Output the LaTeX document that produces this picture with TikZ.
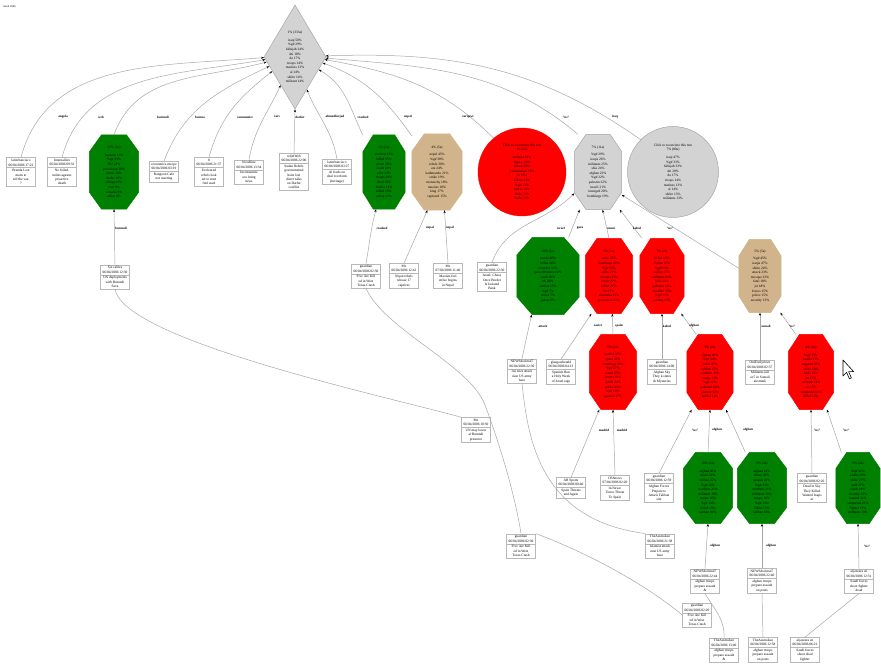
\documentclass[tikz,border=0pt]{standalone}
\usepackage{fontspec}
\setmainfont{Liberation Serif}
\usetikzlibrary{shapes.geometric,shapes.multipart,arrows.meta}
\pgfdeclarelayer{bottom}
\pgfdeclarelayer{background}
\pgfsetlayers{bottom,background,main}
\definecolor{gvgreen}{HTML}{008000}
\definecolor{gvtan}{HTML}{D2B48C}
\definecolor{gvgray}{HTML}{D3D3D3}
\definecolor{gvred}{HTML}{FF0000}
\definecolor{edgecol}{HTML}{A8A8A8}
\definecolor{boxline}{HTML}{B8B8B8}
\tikzset{
 rec/.style={rectangle split, rectangle split parts=2, draw=boxline, fill=white, line width=0.5pt,
   inner xsep=2pt, inner ysep=1.4pt, font=\fontsize{3.5}{4.3}\selectfont, align=center},
 octn/.style={rectangle, inner sep=0pt, font=\fontsize{3.5}{4.6}\selectfont, align=center},
 elab/.style={font=\fontsize{3.3}{4}\selectfont\bfseries, inner sep=0.5pt},
 conn/.style={draw=edgecol, line width=0.5pt, -{Stealth[length=3pt,width=2.2pt,color=black]}},
 lnk/.style={draw=edgecol, line width=0.5pt},
 fgreen/.style={fill=gvgreen, draw=gvgreen},
 fred/.style={fill=gvred, draw=gvred},
 ftan/.style={fill=gvtan, draw=gvtan},
 fgray/.style={fill=gvgray, draw=gray!70},
}
\newcommand\octo[7]{%
 \node[octn, minimum width=#4, minimum height=#5] (#1) at (#2,664-#3) {#7};
 \begin{pgfonlayer}{background}
 \path[#6, line width=0.5pt] ([xshift=0.25*#4]#1.north west) -- ([xshift=-0.25*#4]#1.north east)
   -- ([yshift=-0.23*#5]#1.north east) -- ([yshift=0.23*#5]#1.south east)
   -- ([xshift=-0.25*#4]#1.south east) -- ([xshift=0.25*#4]#1.south west)
   -- ([yshift=0.23*#5]#1.south west) -- ([yshift=-0.23*#5]#1.north west) -- cycle;
 \end{pgfonlayer}}
\begin{document}
\begin{tikzpicture}[x=1pt,y=1pt]
\begin{pgfonlayer}{bottom}
\fill[white] (0,0) rectangle (881,664);
\end{pgfonlayer}
\useasboundingbox (0,0) rectangle (881,664);
\node[anchor=west, font=\fontsize{2.8}{3}\selectfont, inner sep=0] (ttl) at (3,664-7) {result 2006};

% root
\node[diamond, aspect=0.6, fill=gvgray, draw=gray!70, line width=0.5pt, inner sep=0pt,
  minimum width=62, minimum height=104, font=\fontsize{3.5}{4.6}\selectfont, align=center] (dia) at (295,664-57)
 {1\% (333a)\\[3pt] iraqi 50\%\\\%g\# 29\%\\fallujah 24\%\\shi 18\%\\da 17\%\\troops 14\%\\marines 13\%\\al 14\%\\shiite 14\%\\militant 14\%};

% top row
\node[rec] (b1) at (21,664-172) {latinfrancisco\\06/04/2006 17:22\nodepart{two}Brenda Lost\\mans to\\tell the war\\?};
\node[rec] (b2) at (62,664-172) {Internallive\\06/04/2006 09:32\nodepart{two}No foiled,\\unites against\\proactive\\death};
\octo{o1}{114}{172}{49}{74}{fgreen}{33\% (3a)\\[3pt] burundi 41\%\\\%g\# 33\%\\DU 23\%\\peacekeep 20\%\\rebels 18\%\\darfur 18\%\\ethiopia 9\%\\civil 9\%\\somalia 9\%\\africa 8\%}
\node[rec] (b4) at (164,664-172) {economics.europe\\06/04/2006 03:19\nodepart{two}Rangoon Cafe\\not meeting};
\node[rec] (b5) at (209,664-172) {8\\06/04/2006 21:37\nodepart{two}Ecoloured\\rebels look\\set to start\\fuel used};
\node[rec] (b6) at (249,664-172) {bloodline\\06/04/2006 13:34\nodepart{two}Inconsumite\\a to bring\\news};
\node[rec] (b7) at (294,664-172) {reliefWeb\\06/04/2006 22:00\nodepart{two}Sudan Rebels\\governmental\\hoist lost\\direct talks\\on Darfur\\conflict};
\node[rec] (b8) at (337,664-172) {latinfrancisco\\06/04/2006 03:27\nodepart{two}Al feeds on\\deal to reform\\(heritage)};
\octo{o2}{384}{172}{42}{74}{fgreen}{3\% (2a)\\[3pt] crashed 43\%\\killed 35\%\\plane 28\%\\crash 24\%\\pilot 23\%\\troops 20\%\\fired 18\%\\border 14\%\\killed 13\%\\safety 13\%}
\octo{o3}{437}{172}{50}{76}{ftan}{4\% (5a)\\[3pt] nepal 43\%\\\%g\# 30\%\\rebels 30\%\\are 24\%\\kathmandu 21\%\\strike 19\%\\monarchy 18\%\\maoists 18\%\\king 17\%\\captured 15\%}
\node[circle, fill=gvred, draw=gvred, minimum size=88, inner sep=0pt, font=\fontsize{3.5}{4.6}\selectfont, align=center] (c1) at (522,664-172)
 {Click to zoom into this tree\\1\% (2a)\\[3pt] zarqawi 33\%\\legacy 22\%\\labour 20\%\\transmission 18\%\\jet 15\%\\failure 13\%\\\%g\# 13\%\\power 12\%\\deals 11\%\\faults 10\%};
\octo{g1}{598}{172}{47}{75}{fgray}{7\% (11a)\\[3pt] \%g\# 29\%\\iraqis 26\%\\militants 25\%\\shia 24\%\\afghan 23\%\\\%g\# 22\%\\palestin 22\%\\israeli 21\%\\insurged 20\%\\bombings 19\%}
\node[circle, fill=gvgray, draw=gray!70, line width=0.5pt, minimum size=91, inner sep=0pt, font=\fontsize{3.5}{4.6}\selectfont, align=center] (c2) at (673,664-172)
 {Click to zoom into this tree\\7\% (80a)\\[3pt] iraqi 47\%\\\%g\# 33\%\\fallujah 33\%\\shi 20\%\\da 17\%\\troops 14\%\\marines 13\%\\al 14\%\\shiite 13\%\\militants 13\%};

% second row
\node[rec] (b9) at (115,664-277) {Six cables\\06/04/2006 12:30\nodepart{two}UN deployments\\with Burundi\\Sava};
\node[rec] (b10) at (366,664-276) {guardian\\06/04/2006 02:30\nodepart{two}Five Are Kill\\ed in West\\Texas Crash};
\node[rec] (b11) at (404,664-276) {Mx\\06/04/2006 12:41\nodepart{two}Nepal rebels\\release 17\\captives};
\node[rec] (b12) at (448,664-276) {Mx\\07/04/2006 11:40\nodepart{two}Maoists feel\\strike begins\\in Nepal};
\node[rec] (b13) at (492,664-277) {guardian\\06/04/2006 22:30\nodepart{two}Israel: Chaos\\Once Border\\Is Isolated\\Bank};
\octo{o4}{548}{276}{62}{77}{fgreen}{18\% (2a)\\[3pt] israeli 48\%\\bullet 34\%\\crossfire 22\%\\gaza offensive 22\%\\settle 20\%\\bb 20\%\\settlers 13\%\\\%g\# 7\%\\attack 7\%\\palest 6\%}
\octo{o5}{609}{276}{47}{75}{fred}{5\% (3a)\\[3pt] sunni 45\%\\bombings 40\%\\\%g\# 35\%\\shiite 27\%\\mosque 25\%\\iraqis 22\%\\killed 21\%\\bb 17\%\\mourners 15\%\\procession 13\%}
\octo{o6}{662}{276}{44}{75}{fred}{7\% (2a)\\[3pt] kabul 45\%\\afghan 35\%\\\%g\# 28\%\\taliban 27\%\\militants 23\%\\kills 22\%\\pakistan 18\%\\zawahiri 15\%\\\%g\# 15\%\\raiding 13\%}
\octo{o7}{760}{276}{42}{73}{ftan}{5\% (5a)\\[3pt] \%g\# 45\%\\iraqis 47\%\\shiite 24\%\\attack 23\%\\mosque 23\%\\fatal 18\%\\jet 18\%\\forces 15\%\\police 15\%\\security 13\%}

% third row
\node[rec] (b14) at (522,664-371) {NEWSdecimal7\\06/04/2006 22:30\nodepart{two}Iwi tries attack\\near US army\\base};
\node[rec] (b15) at (561,664-372) {glasgowherald\\06/04/2006 04:13\nodepart{two}Spanish Ban\\a Holy Week\\of Israel rage};
\octo{o8}{613}{372}{47}{75}{fred}{5\% (2a)\\[3pt] madrid 33\%\\spain 33\%\\bombings 28\%\\\%g\# 27\%\\trains 27\%\\arrests 25\%\\qaeda 24\%\\police 23\%\\trial 18\%\\spanish 17\%}
\node[rec] (b16) at (662,664-372) {guardian\\06/04/2006 14:09\nodepart{two}Afghan Sky\\They k.states\\\& Mysteries};
\octo{o9}{710}{372}{46}{75}{fred}{3\% (2a)\\[3pt] afghan 46\%\\\%g\# 34\%\\kabul 27\%\\taliban 15\%\\southern 13\%\\troops 13\%\\\%g\# 12\%\\pakistan 12\%\\prepare 12\%\\border 11\%}
\node[rec] (b17) at (760,664-372) {OnlEnd/jobwn\\06/04/2006 02:37\nodepart{two}Militants kill\\at 5 in Somali\\airstrunk};
\octo{o10}{811}{372}{45}{75}{fred}{4\% (2a)\\[3pt] \%g\# 33\%\\saudis 33\%\\targeted 33\%\\shiite 18\%\\raids 15\%\\jet 15\%\\security 14\%\\air 13\%\\suspected 13\%\\killed 12\%}

% fourth row
\node[rec] (b18) at (571,664-488) {AB Sports\\06/04/2006 00:40\nodepart{two}Spain Threats\\and Again};
\node[rec] (b19) at (615,664-488) {CBSnews\\07/04/2006 02:20\nodepart{two}In News:\\Terror Threat\\To Spain};
\node[rec] (b20) at (659,664-488) {guardian\\06/04/2006 12:59\nodepart{two}Afghan Forces\\Prepare to\\Attack Taliban\\site};
\octo{o11}{708}{488}{49}{71}{fgreen}{10\% (2a)\\[3pt] afghan 46\%\\blues 31\%\\taliban 25\%\\\%g\# 22\%\\southern 21\%\\militants 18\%\\troops 16\%\\\%g\# 14\%\\killed 13\%\\taliban 10\%}
\octo{o12}{762}{488}{49}{71}{fgreen}{9\% (2a)\\[3pt] afghan 41\%\\blues 36\%\\assault 26\%\\\%g\# 23\%\\southern 21\%\\militants 18\%\\troops 16\%\\\%g\# 13\%\\killed 13\%\\taliban 10\%}
\node[rec] (b21) at (812,664-488) {guardian\\06/04/2006 02:20\nodepart{two}Dead in Sky\\They Killed\\Wanted Iraqis\\at};
\octo{o13}{858}{488}{44}{71}{fgreen}{9\% (2a)\\[3pt] \%g\# 41\%\\saudis 35\%\\shiite 27\%\\gulf 27\%\\saudi 24\%\\security 21\%\\wanted 21\%\\suspected 21\%\\fighter 13\%\\militants 13\%}

% fifth row and loose boxes
\node[rec] (b22) at (705,664-581) {NEWSdecimal7\\06/04/2006 22:44\nodepart{two}afghan troops\\prepare assault\\\&};
\node[rec] (b23) at (762,664-581) {NEWSdecimal7\\06/04/2006 22:40\nodepart{two}afghan troops\\prepare assault\\on posts};
\node[rec] (b24) at (859,664-581) {aljazeera en\\06/04/2006 12:31\nodepart{two}Saudi forces\\shoot fighter\\dead};
\node[rec] (b25) at (476,664-430) {Mx\\06/04/2006 10:30\nodepart{two}UN may lower\\at Burundi\\presence};
\node[rec] (b26) at (521,664-546) {guardian\\06/04/2006 02:30\nodepart{two}Five Are Kill\\ed in West\\Texas Crash};
\node[rec] (b27) at (660,664-546) {TheAustralian\\06/04/2006 21:38\nodepart{two}Islamist attack\\near US army\\base};
\node[rec] (b28) at (697,664-615) {guardian\\06/04/2006 02:20\nodepart{two}Five Are Kill\\ed in West\\Texas Crash};
\node[rec] (b29) at (724,664-650) {TheAustralian\\06/04/2006 13:40\nodepart{two}afghan troops\\prepare assault\\\&};
\node[rec] (b30) at (763,664-650) {TheAustralian\\06/04/2006 12:58\nodepart{two}afghan troops\\prepare assault\\on posts};
\node[rec] (b31) at (805,664-650) {aljazeera en\\06/04/2006 06:21\nodepart{two}Saudi forces\\shoot dead\\fighter};

% edges to root
\draw[conn] (b1.north) to[out=75,in=185] (dia.181);
\draw[conn] (b2.north) to[out=75,in=190] (dia.185);
\draw[conn] (o1.north) to[out=70,in=195] (dia.190);
\draw[conn] (b4.north) to[out=70,in=205] (dia.200);
\draw[conn] (b5.north) to[out=75,in=218] (dia.212);
\draw[conn] (b6.north) to[out=80,in=245] (dia.243);
\draw[conn] (b7.north) -- (dia.south);
\draw[conn] (b8.north) to[out=100,in=292] (dia.290);
\draw[conn] (o2.120) to[out=115,in=330] (dia.332);
\draw[conn] (o3.125) to[out=125,in=340] (dia.348);
\draw[conn] (c1.130) to[out=135,in=350] (dia.355);
\draw[conn] (g1.118) to[out=140,in=355] (dia.358);
\draw[conn] (c2.135) to[out=145,in=2] (dia.2);
\node[elab] (l1) at (63,664-117) {angola};
\node[elab] (l2) at (101,664-117) {web};
\node[elab] (l3) at (163,664-117) {burundi};
\node[elab] (l4) at (200,664-117) {burma};
\node[elab] (l5) at (245,664-117) {communist};
\node[elab] (l6) at (277,664-117) {cars};
\node[elab] (l7) at (300,664-117) {darfur};
\node[elab] (l8) at (335,664-117) {ahmadinejad};
\node[elab] (l9) at (363,664-117) {crashed};
\node[elab] (l10) at (408,664-117) {nepal};
\node[elab] (l11) at (468,664-117) {zarqawi};
\node[elab] (l12) at (566,664-117) {"us"};
\node[elab] (l13) at (615,664-117) {iraq};

% second level edges
\draw[conn] (b9.north) -- (o1.south);
\draw[conn] (b10.north) to[out=80,in=255] (o2.258);
\draw[conn] (b11.north) -- (o3.256);
\draw[conn] (b12.north) -- (o3.281);
\draw[conn] (b13.north) to[out=70,in=225] (g1.222);
\draw[conn] (o4.62) -- (g1.244);
\draw[conn] (o5.north) -- (g1.277);
\draw[conn] (o6.118) -- (g1.300);
\draw[conn] (o7.160) -- (g1.316);
\node[elab] (l14) at (121,664-228) {burundi};
\node[elab] (l15) at (382,664-228) {crashed};
\node[elab] (l16) at (430,664-228) {nepal};
\node[elab] (l17) at (450,664-228) {nepal};
\node[elab] (l18) at (561,664-228) {israel};
\node[elab] (l19) at (580,664-228) {gaza};
\node[elab] (l20) at (611,664-228) {sunni};
\node[elab] (l21) at (637,664-228) {kabul};
\node[elab] (l22) at (670,664-228) {"us"};

% third level edges
\draw[conn] (b14.north) -- (o4.247);
\draw[conn] (b15.north) -- (o5.245);
\draw[conn] (o8.north) -- (o5.275);
\draw[conn] (b16.north) -- (o6.south);
\draw[conn] (o9.110) -- (o6.297);
\draw[conn] (b17.north) -- (o7.south);
\draw[conn] (o10.112) -- (o7.299);
\node[elab] (l23) at (543,664-326) {attack};
\node[elab] (l24) at (598,664-326) {easter};
\node[elab] (l25) at (619,664-326) {spain};
\node[elab] (l26) at (667,664-326) {kabul};
\node[elab] (l27) at (694,664-326) {afghan};
\node[elab] (l28) at (766,664-326) {somali};
\node[elab] (l29) at (792,664-326) {"us"};

% fourth level edges
\draw[conn] (b18.north) -- (o8.250);
\draw[conn] (b19.north) -- (o8.south);
\draw[conn] (b20.north) -- (o9.244);
\draw[conn] (o11.north) -- (o9.south);
\draw[conn] (o12.115) -- (o9.293);
\draw[conn] (b21.north) -- (o10.south);
\draw[conn] (o13.115) -- (o10.293);
\node[elab] (l30) at (604,664-430) {madrid};
\node[elab] (l31) at (622,664-430) {madrid};
\node[elab] (l32) at (695,664-430) {"us"};
\node[elab] (l33) at (717,664-430) {afghan};
\node[elab] (l34) at (748,664-430) {afghan};
\node[elab] (l35) at (817,664-430) {"us"};
\node[elab] (l36) at (846,664-430) {"us"};

% fifth level edges
\draw[conn] (b22.north) -- (o11.south);
\draw[conn] (b23.north) -- (o12.south);
\draw[conn] (b24.north) -- (o13.south);
\node[elab] (l37) at (715,664-546) {afghan};
\node[elab] (l38) at (771,664-546) {afghan};
\node[elab] (l39) at (867,664-546) {"us"};

% links between duplicate stories
\draw[lnk] (b9.south) .. controls (125,664-340) and (380,664-395) .. (b25.north west);
\draw[lnk] (b10.south) .. controls (385,664-330) and (470,664-365) .. (485,664-405) .. controls (500,664-445) and (515,664-495) .. (b26.north);
\draw[lnk] (b14.south) .. controls (528,664-440) and (540,664-520) .. (b27.north west);
\draw[lnk] (b26.north east) .. controls (580,664-550) and (640,664-580) .. (b28.west);
\draw[lnk] (b22.south) .. controls (715,664-610) and (725,664-620) .. (b29.north);
\draw[lnk] (b23.south) -- (b30.north);
\draw[lnk] (b24.south) -- (b31.north);

% mouse cursor
\draw[fill=white, line width=0.6pt, line join=round] (843,664-360) -- ++(0,-16) -- ++(3.6,3.6) -- ++(2.8,-6.4) -- ++(2,0.9) -- ++(-2.8,6.3) -- ++(5,0) -- cycle;
\end{tikzpicture}
\end{document}
